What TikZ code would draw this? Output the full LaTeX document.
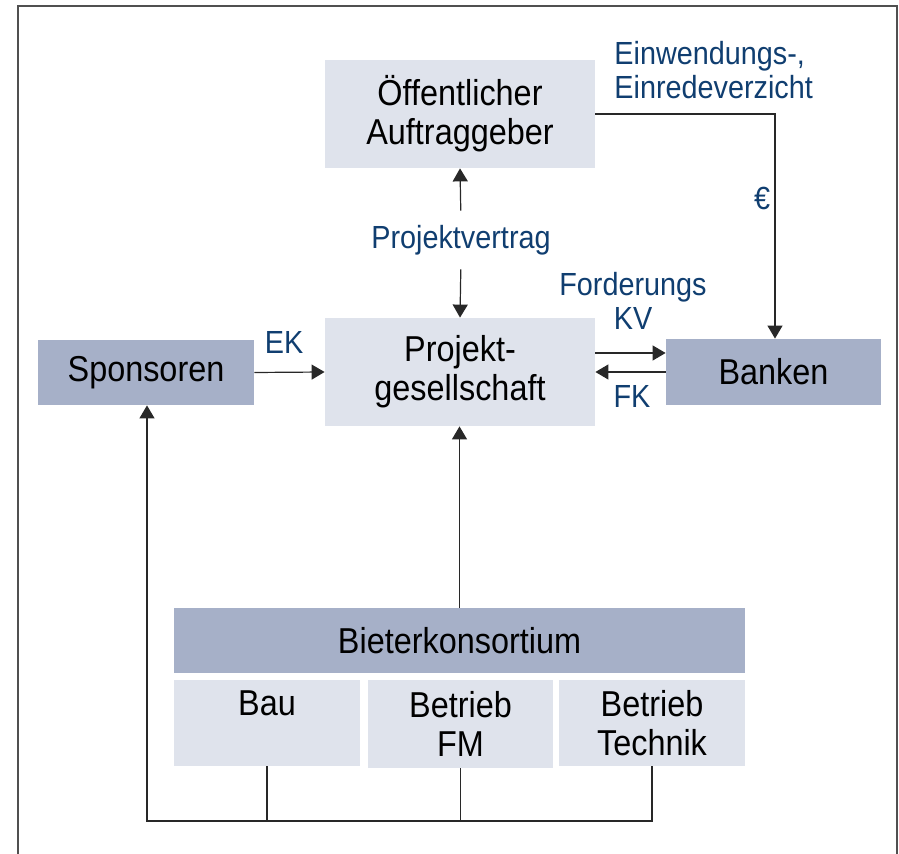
\documentclass[tikz,border=0pt]{standalone}
\usepackage{fontspec}
\setmainfont{Liberation Sans}[FakeStretch=0.9]
\usetikzlibrary{arrows.meta}
\definecolor{boxhell}{RGB}{223,227,236}
\definecolor{boxdunkel}{RGB}{166,176,200}
\definecolor{labelblau}{RGB}{16,62,112}
\definecolor{rahmen}{RGB}{80,80,80}
\definecolor{linie}{RGB}{40,40,40}

\begin{document}
\begin{tikzpicture}[x=0.5pt,y=-0.5pt,
		hellbox/.style = {fill=boxhell, inner sep=0pt, align=center, font=\fontsize{18}{19.5}\selectfont},
		dunkelbox/.style = {fill=boxdunkel, inner sep=0pt, align=center, font=\fontsize{18}{19.5}\selectfont},
		beschr/.style = {text=labelblau, inner sep=1pt, align=center, font=\fontsize{16}{17}\selectfont},
		verb/.style = {draw=linie, line width=0.6pt},
		pfeil/.style = {verb, -{Triangle[length=6.5pt,width=7.5pt]}}]
	\useasboundingbox (0,0) rectangle (899,854);
	\draw[rahmen, line width=1pt] (18,854) -- (18,6) -- (897,6) -- (897,854);
	% Kaesten
	\node[hellbox, minimum width=135pt, minimum height=54pt] (oeff) at (460,114) {Öffentlicher\\Auftraggeber};
	\node[hellbox, minimum width=135pt, minimum height=54pt] (pg) at (460,372) {Projekt-\\gesellschaft};
	\node[dunkelbox, minimum width=108pt, minimum height=32.5pt] (spons) at (146,372.5) {Sponsoren};
	\node[dunkelbox, minimum width=107.5pt, minimum height=33pt] (bank) at (773.5,372) {Banken};
	\node[dunkelbox, minimum width=285.5pt, minimum height=32.5pt] (bieter) at (459.5,640.5) {Bieterkonsortium};
	\node[hellbox, minimum width=93pt, minimum height=43pt] (bau) at (267,723) {Bau\\\mbox{}};
	\node[hellbox, minimum width=92.5pt, minimum height=44pt] (fm) at (460.5,724) {Betrieb\\FM};
	\node[hellbox, minimum width=93pt, minimum height=43pt] (tech) at (652,723) {Betrieb\\Technik};
	% Beschriftungen
	\node[beschr] (pv) at (461,240) {Projektvertrag};
	\node[beschr] (ek) at (284,342) {EK};
	\node[beschr] (fkv) at (633,301) {Forderungs\\KV};
	\node[beschr] (fk) at (632,396) {FK};
	\node[beschr] (euro) at (762,198) {€};
	\node[beschr, anchor=west, align=left] (verz) at (612,70) {Einwendungs-,\\Einredeverzicht};
	% Verbindungen
	\draw[pfeil, shorten <=6pt] (pv.north) -- (oeff.south);
	\draw[pfeil, shorten <=6pt] (pv.south) -- (pg.north);
	\draw[pfeil] (spons.east) -- (pg.west);
	\draw[pfeil] ([yshift=9.5pt]pg.east) -- ([yshift=9.5pt]bank.west);
	\draw[pfeil] (bank.west) -- (pg.east);
	\draw[pfeil] (oeff.east) -| ([xshift=0.75pt]bank.north);
	\draw[pfeil] (bieter.north) -- (bieter.north |- pg.south);
	\coordinate (bus) at (147,821);
	\draw[verb] (bau.south) -- (bau.south |- bus);
	\draw[verb] (fm.south) -- (fm.south |- bus);
	\draw[pfeil] (tech.south) -- (tech.south |- bus) -- (bus) -- (bus |- spons.south);
\end{tikzpicture}
\end{document}
